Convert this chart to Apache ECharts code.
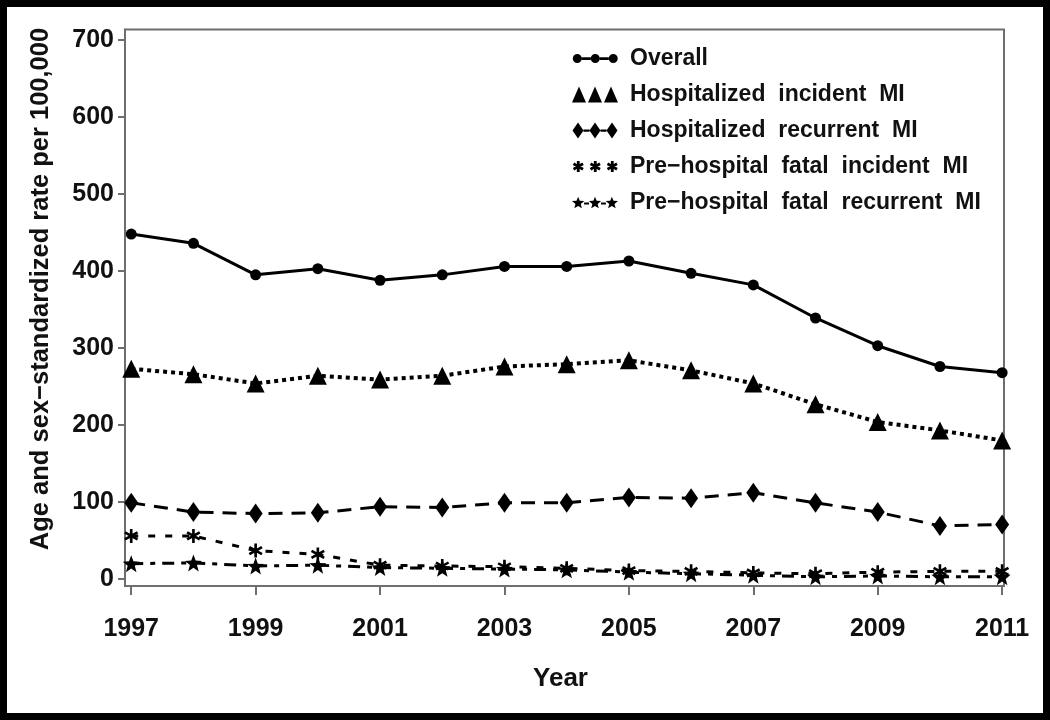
<!DOCTYPE html>
<html>
<head>
<meta charset="utf-8">
<script src="https://cdn.jsdelivr.net/npm/echarts@6/dist/echarts.min.js"></script>
<style>
html,body{margin:0;padding:0;background:#000;width:1050px;height:720px;overflow:hidden;}
#chart{position:absolute;left:7px;top:7px;width:1036px;height:706px;background:#fff;}
</style>
</head>
<body>
<div id="chart"></div>
<script>
const years = [1997,1998,1999,2000,2001,2002,2003,2004,2005,2006,2007,2008,2009,2010,2011];
const xTickLabels = [1997,1999,2001,2003,2005,2007,2009,2011];
const yTickLabels = [0,100,200,300,400,500,600,700];
const seriesNames = ['Overall','Hospitalized  incident  MI','Hospitalized  recurrent  MI','Pre−hospital  fatal  incident  MI','Pre−hospital  fatal  recurrent  MI'];
const overall = [448,436,395,403,388,395,406,406,413,397,382,339,303,276,268];
const hospIncident = [273,266,254,264,259,264,276,279,284,271,254,227,204,193,180];
const hospRecurrent = [99,87,85,86,94,93,99,99,106,105,112,99,87,69,71];
const fatalIncident = [56,56,37,32,18,17,16,14,11,10,8,7,9,10,10];
const fatalRecurrent = [20,21,17,18,15,14,13,12,9,7,5,3,4,3,3];
const yAxisTitle = 'Age and sex−standardized rate per 100,000';
const xAxisTitle = 'Year';

const FONT = '"Liberation Sans", Arial, sans-serif';

// symbol shapes
function starPts(cx, cy, R, r) {
  let s = '';
  for (let i = 0; i < 10; i++) {
    const a = -Math.PI/2 + i*Math.PI/5;
    const rr = i % 2 === 0 ? R : r;
    s += (i === 0 ? 'M' : 'L') + (cx + rr*Math.cos(a)).toFixed(2) + ' ' + (cy + rr*Math.sin(a)).toFixed(2);
  }
  return s + 'Z';
}
function asteriskPts(cx, cy, L, w) {
  let s = '';
  [90, 30, 150].forEach(function(deg) {
    const a = deg*Math.PI/180, dx = Math.cos(a), dy = Math.sin(a), px = -dy, py = dx;
    const c = [
      [cx + L*dx + w*px, cy + L*dy + w*py],
      [cx + L*dx - w*px, cy + L*dy - w*py],
      [cx - L*dx - w*px, cy - L*dy - w*py],
      [cx - L*dx + w*px, cy - L*dy + w*py]
    ];
    let area = 0;
    for (let i = 0; i < 4; i++) { const n = c[(i+1)%4]; area += c[i][0]*n[1] - n[0]*c[i][1]; }
    if (area < 0) c.reverse();
    s += 'M' + c.map(p => p[0].toFixed(2) + ' ' + p[1].toFixed(2)).join('L') + 'Z';
  });
  return s;
}
function circlePts(cx, cy, r) {
  return 'M' + (cx - r) + ' ' + cy + 'A' + r + ' ' + r + ' 0 1 1 ' + (cx + r) + ' ' + cy + 'A' + r + ' ' + r + ' 0 1 1 ' + (cx - r) + ' ' + cy + 'Z';
}
function trianglePts(cx, cy, w, h) {
  return 'M' + cx + ' ' + (cy - h/2) + 'L' + (cx + w/2) + ' ' + (cy + h/2) + 'L' + (cx - w/2) + ' ' + (cy + h/2) + 'Z';
}
function diamondPts(cx, cy, w, h) {
  return 'M' + cx + ' ' + (cy - h/2) + 'L' + (cx + w/2) + ' ' + cy + 'L' + cx + ' ' + (cy + h/2) + 'L' + (cx - w/2) + ' ' + cy + 'Z';
}
function rectPts(x0, y0, x1, y1) {
  return 'M' + x0 + ' ' + y0 + 'L' + x1 + ' ' + y0 + 'L' + x1 + ' ' + y1 + 'L' + x0 + ' ' + y1 + 'Z';
}
const asteriskSym = 'path://' + asteriskPts(10, 10, 10, 1.8);
const starSym = 'path://' + starPts(10, 10, 10, 4.2);

// legend icons: three markers in a 46x16 box
const legIcons = [
  'path://' + circlePts(5,8,4.5) + circlePts(23,8,4.5) + circlePts(41,8,4.5) + rectPts(9.5,6.8,18.5,9.6) + rectPts(27.5,6.8,36.5,9.6) + rectPts(0,0,0.01,16),
  'path://' + trianglePts(7,8,14,16) + trianglePts(23,8,14,16) + trianglePts(39,8,14,16),
  'path://' + diamondPts(6,8,11,16) + diamondPts(23,8,11,16) + diamondPts(40,8,11,16) + rectPts(11.5,7,17.5,9.2) + rectPts(28.5,7,34.5,9.2),
  'path://' + asteriskPts(6,8,5.5,1.4) + asteriskPts(23,8,5.5,1.4) + asteriskPts(40,8,5.5,1.4) + rectPts(0,0,0.01,16),
  'path://' + starPts(6,8,6.5,2.8) + starPts(23,8,6.5,2.8) + starPts(40,8,6.5,2.8) + rectPts(12,7.3,17,9.3) + rectPts(29,7.3,34,9.3)
];

const chart = echarts.init(document.getElementById('chart'));

function mk(name, data, symbol, symbolSize, lineType, width) {
  return {
    name: name, type: 'line',
    data: years.map((y, i) => [y, data[i]]),
    symbol: symbol, symbolSize: symbolSize,
    showAllSymbol: true,
    lineStyle: { color: '#000', width: width, type: lineType, cap: 'butt' },
    itemStyle: { color: '#000', borderWidth: 0 },
    emphasis: { disabled: true },
    animation: false,
    z: 3
  };
}

chart.setOption({
  animation: false,
  backgroundColor: '#fff',
  grid: { left: 118, top: 22.5, right: 39, bottom: 127, show: true, borderColor: '#6e6e6e', borderWidth: 2, backgroundColor: 'transparent' },
  xAxis: {
    type: 'value', min: 1996.9, max: 2011.03,
    name: xAxisTitle, nameLocation: 'middle', nameGap: 80,
    nameTextStyle: { fontFamily: FONT, fontSize: 26, fontWeight: 'bold', color: '#111', padding: [0, 8, 0, 0] },
    axisLine: { show: true, onZero: false, lineStyle: { color: '#6e6e6e', width: 2 } },
    axisTick: { show: true, length: 9, lineStyle: { color: '#6e6e6e', width: 2 }, customValues: xTickLabels },
    axisLabel: { customValues: xTickLabels, margin: 43, fontFamily: FONT, fontSize: 25, fontWeight: 'bold', color: '#111', verticalAlign: 'middle', formatter: v => String(Math.round(v)) },
    splitLine: { show: false }
  },
  yAxis: {
    type: 'value', min: -9, max: 713.6,
    axisLine: { show: true, lineStyle: { color: '#6e6e6e', width: 2 } },
    axisTick: { show: true, length: 7, lineStyle: { color: '#6e6e6e', width: 2 }, customValues: yTickLabels },
    axisLabel: { customValues: yTickLabels, margin: 11, fontFamily: FONT, fontSize: 25, fontWeight: 'bold', color: '#111' },
    splitLine: { show: false }
  },
  legend: {
    left: 565, top: 40, padding: 0, orient: 'vertical', itemGap: 13, itemWidth: 46, itemHeight: 16,
    selectedMode: false,
    textStyle: { fontFamily: FONT, fontSize: 23, fontWeight: 'bold', color: '#111', padding: [0,0,0,7] },
    data: seriesNames.map((n, i) => ({ name: n, icon: legIcons[i], itemStyle: { color: '#000', borderWidth: 0 } }))
  },
  graphic: [{
    type: 'text', x: 34, y: 282, rotation: Math.PI/2,
    style: { text: yAxisTitle, font: 'bold 25.5px ' + FONT, fill: '#111', align: 'center', verticalAlign: 'middle' }
  }],
  series: [
    mk(seriesNames[0], overall, 'circle', 11, 'solid', 3),
    mk(seriesNames[1], hospIncident, 'triangle', 18, [4,4], 4),
    mk(seriesNames[2], hospRecurrent, 'diamond', [14,20], [14,9], 3),
    mk(seriesNames[3], fatalIncident, asteriskSym, 14, [7,10], 3),
    mk(seriesNames[4], fatalRecurrent, starSym, 17, [12,7,5,7], 3)
  ]
});
</script>
</body>
</html>
